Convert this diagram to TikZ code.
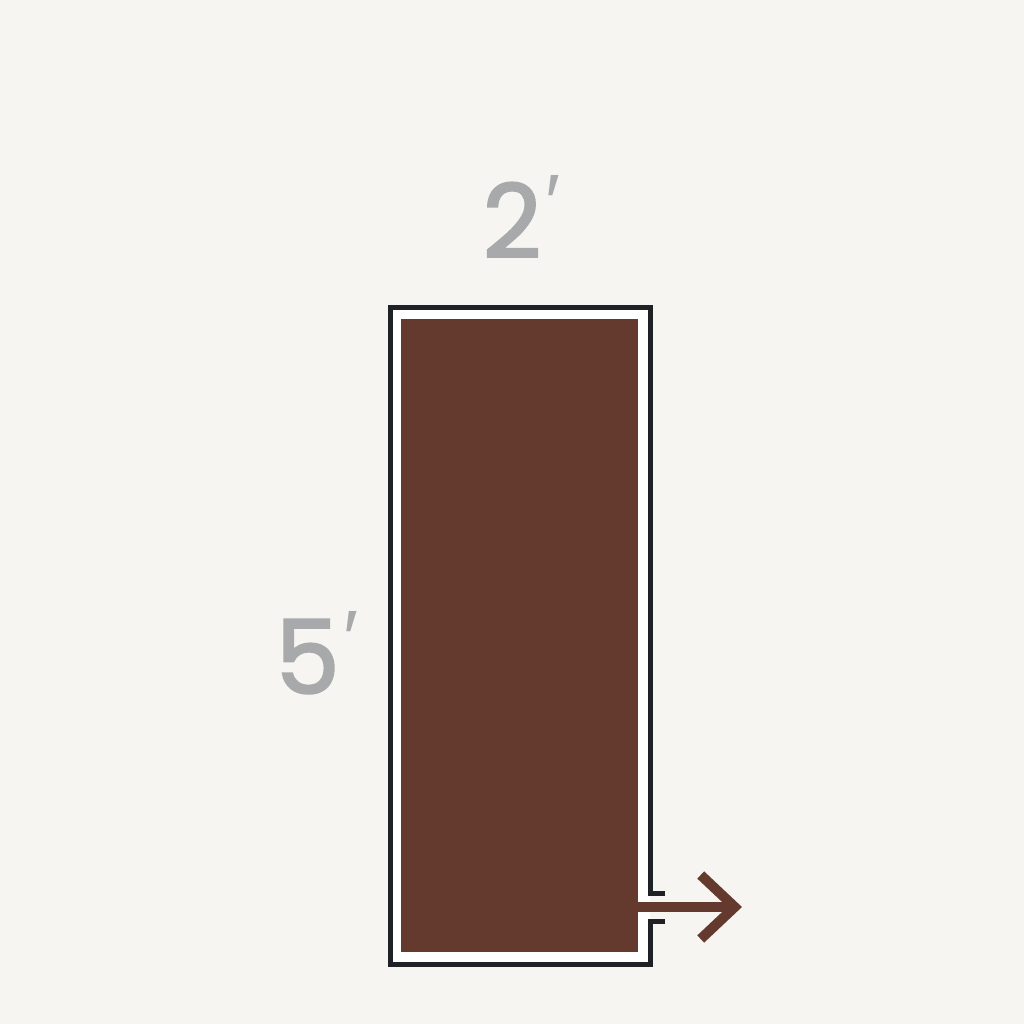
\documentclass[tikz,border=0pt]{standalone}
\usepackage{fontspec}
\setmainfont{Poppins}[FakeBold=2.2]
\newfontfamily\primefont{Liberation Sans}
\usepackage{xcolor}
\usetikzlibrary{positioning,arrows.meta}
\definecolor{paper}{HTML}{F7F5F1}
\definecolor{walnut}{HTML}{643A2F}
\definecolor{ink}{HTML}{1E2126}
\definecolor{label}{HTML}{A7A9AB}
\newcommand{\ft}{\kern4pt\raisebox{27pt}{\fontsize{80}{80}\primefont ′}}

\begin{document}
\begin{tikzpicture}[x=1pt,y=-1pt,
	slab/.style={fill=walnut,draw=none,inner sep=0pt,minimum width=237pt,minimum height=633pt},
	dim/.style={text=label,inner sep=0pt,font=\fontsize{102}{102}\selectfont},
	jamb/.style={draw=ink,line width=5pt,line join=miter},
	swing/.style={draw=walnut,line width=10pt,-{Straight Barb[length=34pt,width=64pt,line width=10pt]}}]
	\fill[paper] (0,0) rectangle (1024,1024);
	\useasboundingbox (0,0) rectangle (1024,1024);
	\fill[white] (390,307) rectangle (650,964);

	\node[slab] (door) at (519.5,635.5) {};
	\node[dim] (w) [above=61pt of door.north,xshift=2pt] {2\ft};
	\node[dim] (h) [left=42pt of door.west,yshift=-17pt] {5\ft};

	\coordinate (hinge) at (door.east |- 0,907);
	\coordinate (tip) at (742,907);

	\draw[jamb] (665,893) -- (650,893) -- (650,307) -- (390,307) -- (390,964) -- (650,964) -- (650,921) -- (665,921);
	\draw[swing] (hinge) -- (tip);
\end{tikzpicture}
\end{document}
